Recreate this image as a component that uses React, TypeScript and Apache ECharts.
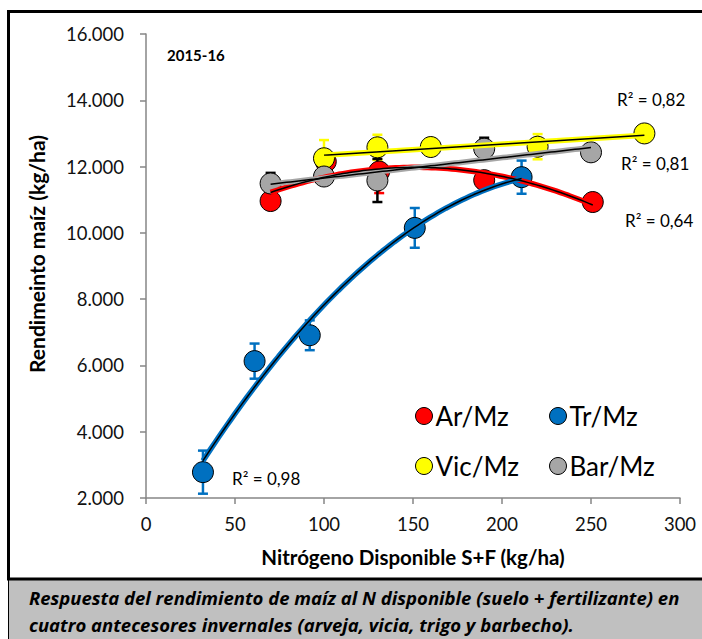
import { useEffect, useRef } from 'react';
import * as echarts from 'echarts';

const FONT = 'Lato, "Open Sans", "DejaVu Sans", sans-serif';
const FONT2 = '"Open Sans", Lato, sans-serif';

// ---- data ----
const seriesNames = ['Ar/Mz', 'Tr/Mz', 'Vic/Mz', 'Bar/Mz'];

const arX = [70, 101, 131, 190, 251];
const arY = [10960, 12150, 11850, 11590, 10930];
const arErr = [150, 200, 650, 200, 150];

const trX = [32, 61, 92, 151, 211];
const trY = [2780, 6130, 6910, 10150, 11680];
const trErr = [650, 530, 450, 600, 500];

const vicX = [100, 130, 160, 220, 280];
const vicY = [12250, 12580, 12590, 12600, 13000];
const vicErr = [550, 380, 200, 380, 150];

const barX = [70, 100, 130, 190, 250];
const barY = [11490, 11700, 11580, 12540, 12430];
const barErr = [320, 200, 650, 330, 200];

const r2Labels = ['R² = 0,64', 'R² = 0,98', 'R² = 0,82', 'R² = 0,81'];
const trendDegree = [2, 2, 1, 1];

const xAxisTitle = 'Nitrógeno Disponible S+F (kg/ha)';
const yAxisTitle = 'Rendimeinto maíz (kg/ha)';
const panelTitle = '2015-16';
const caption1 = 'Respuesta del rendimiento de maíz al N disponible (suelo + fertilizante) en';
const caption2 = 'cuatro antecesores invernales (arveja, vicia, trigo y barbecho).';

const colors = ['#ff0000', '#0070c0', '#ffff00', '#a6a6a6'];
const errColors = ['#ff0000', '#0070c0', '#ffff00', '#000000'];

// least squares polynomial fit (trend line, as the spreadsheet computed it)
function polyfit(xs: number[], ys: number[], deg: number): number[] {
  const n = deg + 1;
  const A: number[][] = [];
  for (let i = 0; i < n; i++) {
    A.push(new Array(n + 1).fill(0));
  }
  for (let k = 0; k < xs.length; k++) {
    for (let i = 0; i < n; i++) {
      for (let j = 0; j < n; j++) A[i][j] += Math.pow(xs[k], i + j);
      A[i][n] += ys[k] * Math.pow(xs[k], i);
    }
  }
  for (let i = 0; i < n; i++) {
    let p = i;
    for (let r = i + 1; r < n; r++) if (Math.abs(A[r][i]) > Math.abs(A[p][i])) p = r;
    [A[i], A[p]] = [A[p], A[i]];
    for (let r = 0; r < n; r++) {
      if (r === i) continue;
      const f = A[r][i] / A[i][i];
      for (let c = i; c <= n; c++) A[r][c] -= f * A[i][c];
    }
  }
  return A.map((row, i) => row[n] / row[i]);
}

function trendPoints(xs: number[], ys: number[], deg: number): number[][] {
  const c = polyfit(xs, ys, deg);
  const lo = Math.min(...xs);
  const hi = Math.max(...xs);
  const out: number[][] = [];
  const steps = 80;
  for (let s = 0; s <= steps; s++) {
    const x = lo + ((hi - lo) * s) / steps;
    let y = 0;
    for (let i = 0; i < c.length; i++) y += c[i] * Math.pow(x, i);
    out.push([x, y]);
  }
  return out;
}

const groups = [
  { x: arX, y: arY, e: arErr },
  { x: trX, y: trY, e: trErr },
  { x: vicX, y: vicY, e: vicErr },
  { x: barX, y: barY, e: barErr },
];

export default function App() {
  const ref = useRef<HTMLDivElement>(null);
  useEffect(() => {
    if (!ref.current) return;
    const chart = echarts.init(ref.current, null, { renderer: 'svg' });

    const series: any[] = [];
    groups.forEach((g, i) => {
      const color = errColors[i];
      series.push({
        type: 'custom',
        name: 'err-' + seriesNames[i],
        z: 1,
        silent: true,
        data: g.x.map((x, k) => [x, g.y[k], g.e[k]]),
        encode: { x: 0, y: 1 },
        renderItem: (params: any, api: any) => {
          const x = api.value(0);
          const y = api.value(1);
          const e = api.value(2);
          const top = api.coord([x, y + e]);
          const bot = api.coord([x, y - e]);
          const half = 5;
          const st = { stroke: color, lineWidth: 2.5 };
          return {
            type: 'group',
            children: [
              { type: 'line', shape: { x1: top[0], y1: top[1], x2: bot[0], y2: bot[1] }, style: st },
              { type: 'line', shape: { x1: top[0] - half, y1: top[1], x2: top[0] + half, y2: top[1] }, style: st },
              { type: 'line', shape: { x1: bot[0] - half, y1: bot[1], x2: bot[0] + half, y2: bot[1] }, style: st },
            ],
          };
        },
      });
    });
    groups.forEach((g, i) => {
      series.push({
        type: 'scatter',
        name: seriesNames[i],
        z: 2,
        symbol: 'circle',
        symbolSize: 21,
        itemStyle: { color: colors[i], borderColor: '#000', borderWidth: 1, opacity: 1 },
        data: g.x.map((x, k) => [x, g.y[k]]),
      });
    });
    groups.forEach((g, i) => {
      const pts = trendPoints(g.x, g.y, trendDegree[i]);
      series.push({
        type: 'line',
        name: 'trend-' + seriesNames[i],
        z: 3,
        symbol: 'none',
        silent: true,
        lineStyle: { color: colors[i], width: 5.5 },
        data: pts,
      });
      series.push({
        type: 'line',
        name: 'trendc-' + seriesNames[i],
        z: 4,
        symbol: 'none',
        silent: true,
        lineStyle: { color: '#000', width: 1.5 },
        data: pts,
      });
    });

    const legendPos = [
      { left: 415, top: 403 },
      { left: 549, top: 403 },
      { left: 415, top: 453 },
      { left: 549, top: 453 },
    ];

    const axisColor = '#868686';

    chart.setOption({
      animation: false,
      backgroundColor: '#ffffff',
      grid: { left: 146, top: 34, width: 534, height: 464, containLabel: false, outerBoundsMode: 'none' },
      xAxis: {
        type: 'value',
        min: 0,
        max: 300,
        interval: 50,
        axisLine: { show: true, onZero: false, lineStyle: { color: axisColor, width: 1.5 } },
        axisTick: { show: true, inside: false, length: 6, lineStyle: { color: axisColor, width: 1.5 } },
        splitLine: { show: false },
        axisLabel: { fontSize: 18.5, color: '#111', margin: 16, fontFamily: FONT },
      },
      yAxis: {
        type: 'value',
        min: 2000,
        max: 16000,
        interval: 2000,
        axisLine: { show: true, onZero: false, lineStyle: { color: axisColor, width: 1.5 } },
        axisTick: { show: true, inside: false, length: 6, lineStyle: { color: axisColor, width: 1.5 } },
        splitLine: { show: false },
        axisLabel: {
          fontSize: 18.5,
          color: '#111',
          margin: 22,
          fontFamily: FONT,
          formatter: (v: number) => (v / 1000).toFixed(3),
        },
      },
      legend: seriesNames.map((n, i) => ({
        data: [{ name: n, icon: 'circle' }],
        left: legendPos[i].left,
        top: legendPos[i].top,
        padding: 0,
        itemWidth: 17,
        itemHeight: 17,
        itemGap: 0,
        selectedMode: false,
        itemStyle: { borderColor: '#000', borderWidth: 1 },
        textStyle: { fontSize: 26, color: '#000', fontFamily: FONT, lineHeight: 24, padding: [0, 0, 0, -2] },
      })),
      graphic: [
        {
          type: 'rect',
          z: -1,
          shape: { x: 8, y: 580, width: 702, height: 59 },
          style: { fill: '#c0c0c0' },
        },
        {
          type: 'rect',
          shape: { x: 8.5, y: 11.5, width: 720, height: 567.5 },
          style: { fill: 'none', stroke: '#000', lineWidth: 3 },
        },
        {
          type: 'rect',
          shape: { x: 8.5, y: 579, width: 720, height: 80 },
          style: { fill: 'none', stroke: '#000', lineWidth: 1 },
        },
        {
          type: 'text',
          x: 29,
          y: 597,
          style: { text: caption1, font: `italic bold 18.5px ${FONT2}`, fill: '#000', verticalAlign: 'middle', align: 'left' },
        },
        {
          type: 'text',
          x: 29,
          y: 624,
          style: { text: caption2, font: `italic bold 18.5px ${FONT2}`, fill: '#000', verticalAlign: 'middle', align: 'left' },
        },
        {
          type: 'text',
          x: 413,
          y: 557,
          style: { text: xAxisTitle, font: `bold 20.5px ${FONT}`, fill: '#000', align: 'center', verticalAlign: 'middle' },
        },
        {
          type: 'text',
          x: 36,
          y: 254,
          rotation: Math.PI / 2,
          style: { text: yAxisTitle, font: `bold 21px ${FONT}`, fill: '#000', align: 'center', verticalAlign: 'middle' },
        },
        {
          type: 'text',
          x: 167,
          y: 55,
          style: { text: panelTitle, font: `bold 15px ${FONT}`, fill: '#000', align: 'left', verticalAlign: 'middle' },
        },
        {
          type: 'text',
          x: 625,
          y: 220,
          style: { text: r2Labels[0], font: `17px ${FONT}`, fill: '#000', align: 'left', verticalAlign: 'middle' },
        },
        {
          type: 'text',
          x: 232,
          y: 478,
          style: { text: r2Labels[1], font: `17px ${FONT}`, fill: '#000', align: 'left', verticalAlign: 'middle' },
        },
        {
          type: 'text',
          x: 617,
          y: 99,
          style: { text: r2Labels[2], font: `17px ${FONT}`, fill: '#000', align: 'left', verticalAlign: 'middle' },
        },
        {
          type: 'text',
          x: 621,
          y: 163,
          style: { text: r2Labels[3], font: `17px ${FONT}`, fill: '#000', align: 'left', verticalAlign: 'middle' },
        },
      ],
      series,
    });

    return () => chart.dispose();
  }, []);

  return (
    <div
      ref={ref}
      style={{ position: 'fixed', left: 0, top: 0, width: 702, height: 639, background: '#fff' }}
    />
  );
}
